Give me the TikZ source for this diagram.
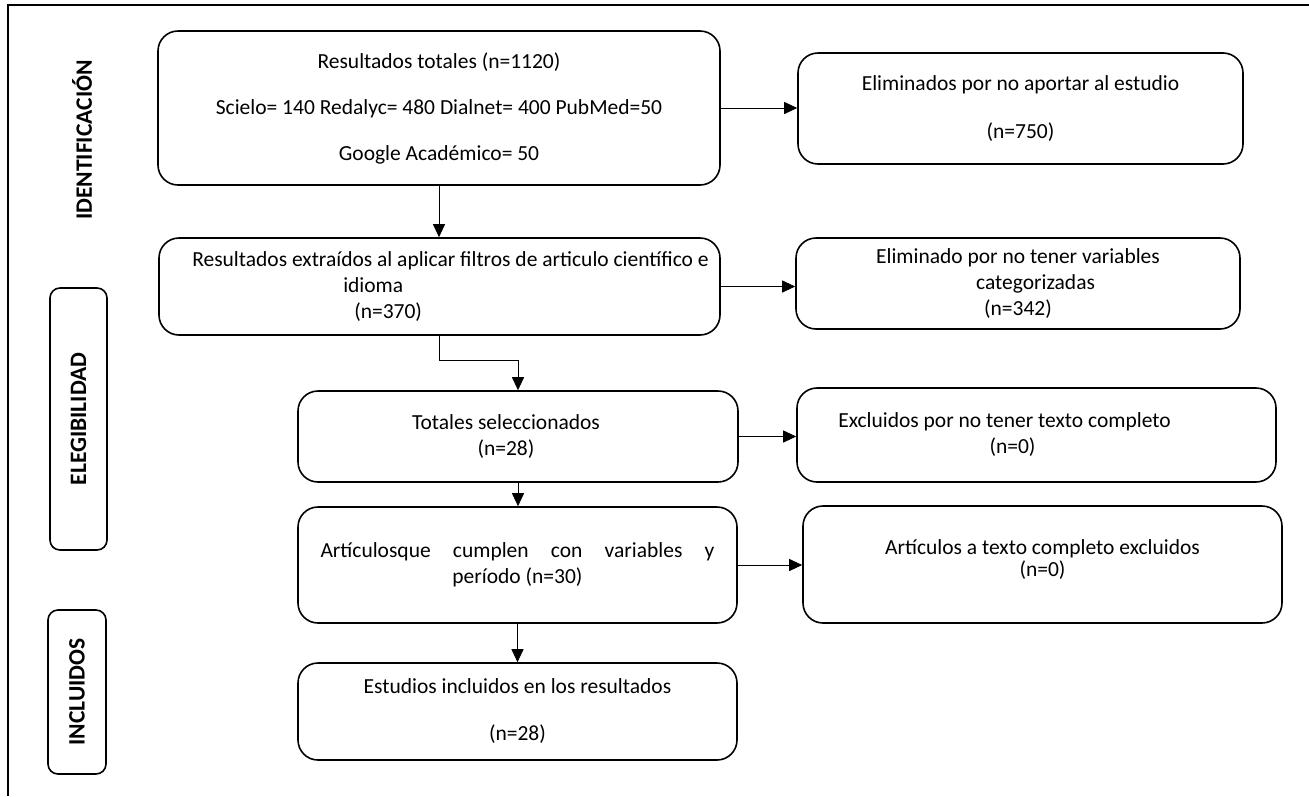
\documentclass[tikz,border=0pt]{standalone}
\usepackage{fontspec}
\setmainfont{Carlito}
\usetikzlibrary{arrows.meta,positioning}

\tikzset{
  flowbox/.style={draw, line width=1.6pt, rounded corners=20pt, inner sep=0pt,
                  font=\fontsize{21.5}{26}\selectfont, align=center},
  phasebox/.style={line width=1.6pt, rounded corners=10pt, inner sep=0pt, rotate=90,
                   font=\fontsize{23.5}{28}\selectfont\bfseries},
  flowarrow/.style={line width=0.9pt, -{Triangle[length=13pt,width=12pt]}}
}

\begin{document}
\begin{tikzpicture}[x=1pt, y=-1pt]
\useasboundingbox (0,0) rectangle (1309,796);
% outer frame (top and left only)
\draw[line width=1.4pt] (1309,5) -- (8,5) -- (8,796);

% phase labels
\node[phasebox] (ident) at (82,140) {IDENTIFICACIÓN};
\node[phasebox, draw, minimum width=262pt, minimum height=57pt] (elig) at (78.5,419) {ELEGIBILIDAD};
\node[phasebox, draw, minimum width=164pt, minimum height=58pt] (incl) at (77,692) {INCLUIDOS};

% main column
\node[flowbox, minimum width=562pt, minimum height=154pt] (total) at (439,108)
  {Resultados totales (n=1120)\\[20pt]Scielo= 140 Redalyc= 480 Dialnet= 400 PubMed=50\\[20pt]Google Académico= 50};
\node[flowbox, minimum width=561pt, minimum height=97pt, align=left] (filtro) at (439.5,286.5)
  {\hspace*{22pt}Resultados extraídos al aplicar filtros de articulo científico e\\\hspace*{173pt}idioma\\\hspace*{184pt}(n=370)};
\node[flowbox, minimum width=440pt, minimum height=91pt] (selec) at (518,436.5)
  {Totales seleccionados\hspace*{24pt}\\(n=28)\hspace*{24pt}};
\node[flowbox, minimum width=439pt, minimum height=116pt] (cumplen) at (517.5,565)
  {\makebox[394pt]{Artículosque\hfill cumplen\hfill con\hfill variables\hfill y}\\período (n=30)};
\node[flowbox, minimum width=439pt, minimum height=97pt] (estud) at (517.5,711.5)
  {Estudios incluidos en los resultados\\[21pt](n=28)};

% exclusion column
\node[flowbox, minimum width=445pt, minimum height=111pt] (elim1) at (1020.5,108.5)
  {Eliminados por no aportar al estudio\\[22pt](n=750)};
\node[flowbox, minimum width=444pt, minimum height=91pt, align=left] (elim2) at (1018,283.5)
  {Eliminado por no tener variables\\\hspace*{100pt}categorizadas\\\hspace*{108pt}(n=342)};
\node[flowbox, minimum width=479pt, minimum height=94pt] (excl1) at (1036.5,435)
  {Excluidos por no tener texto completo\hspace*{64pt}\\(n=0)\hspace*{48pt}};
\node[flowbox, minimum width=479pt, minimum height=117pt] (excl2) at (1042.5,564.5)
  {Artículos a texto completo excluidos\\[-4pt](n=0)\\[-14pt]};

% connectors
\draw[flowarrow] (total.south) -- (total.south |- filtro.north);
\draw[flowarrow] (total.east) -- (total.east -| elim1.west);
\draw[flowarrow] (filtro.south) -- ++(0,25) -| (selec.north);
\draw[flowarrow] (filtro.east) -- (filtro.east -| elim2.west);
\draw[flowarrow] (selec.south) -- (selec.south |- cumplen.north);
\draw[flowarrow] (selec.east) -- (selec.east -| excl1.west);
\draw[flowarrow] (cumplen.south) -- (cumplen.south |- estud.north);
\draw[flowarrow] (cumplen.east) -- (cumplen.east -| excl2.west);
\end{tikzpicture}
\end{document}
